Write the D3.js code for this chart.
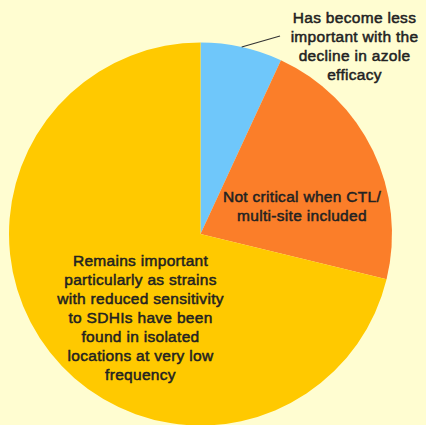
<!DOCTYPE html>
<html><head><meta charset="utf-8">
<script src="https://cdn.jsdelivr.net/npm/d3@7"></script>
<style>html,body{margin:0;padding:0;background:#FFFDD1;}svg{display:block;}</style>
</head><body>
<script>
const categories = ["Has become less important with the decline in azole efficacy",
                    "Not critical when CTL/ multi-site included",
                    "Remains important particularly as strains with reduced sensitivity to SDHIs have been found in isolated locations at very low frequency"];
const values = [6.9, 21.9, 71.2];
const colors = ["#6FC7FA", "#FB7E29", "#FFC900"];
const labelLines = [
  ["Has become less", "important with the", "decline in azole", "efficacy"],
  ["Not critical when CTL/", "multi-site included"],
  ["Remains important", "particularly as strains", "with reduced sensitivity", "to SDHIs have been", "found in isolated", "locations at very low", "frequency"]
];

const W = 426, H = 425;
const cx = 200.5, cy = 234, R = 191.5;
const labelPos = [[154, -188.5], [101.5, -28], [-60, 83]]; // label centre offsets from pie centre
const lineH = 19;

const svg = d3.select("body").append("svg").attr("width", W).attr("height", H);
svg.append("rect").attr("width", W).attr("height", H).attr("fill", "#FFFDD1");
const g = svg.append("g").attr("transform", `translate(${cx},${cy})`);

const pie = d3.pie().sort(null).value(d => d);
const arcs = pie(values);
const arc = d3.arc().innerRadius(0).outerRadius(R);

g.selectAll("path.slice").data(arcs).join("path")
  .attr("class", "slice")
  .attr("d", arc)
  .attr("fill", (d, i) => colors[i]);

// leader line for the small slice
const a0 = arcs[0];
const mid = (a0.startAngle + a0.endAngle) / 2;
const p0 = [Math.sin(mid) * R, -Math.cos(mid) * R];
g.append("line")
  .attr("x1", p0[0]).attr("y1", p0[1])
  .attr("x2", 79.5).attr("y2", -198)
  .attr("stroke", "#333").attr("stroke-width", 1.2);

labelLines.forEach((lines, i) => {
  const [lx, ly] = labelPos[i];
  const t = g.append("text")
    .attr("text-anchor", "middle")
    .attr("font-family", "'Liberation Sans', Arial, sans-serif")
    .attr("font-size", 15.5)
    .attr("letter-spacing", 0.3)
    .attr("fill", "#222")
    .attr("stroke", "#222")
    .attr("stroke-width", 0.5);
  const top = ly - (lines.length - 1) * lineH / 2;
  lines.forEach((s, k) => {
    t.append("tspan").attr("x", lx).attr("y", top + k * lineH + 5.5).text(s);
  });
});
</script>
</body></html>
